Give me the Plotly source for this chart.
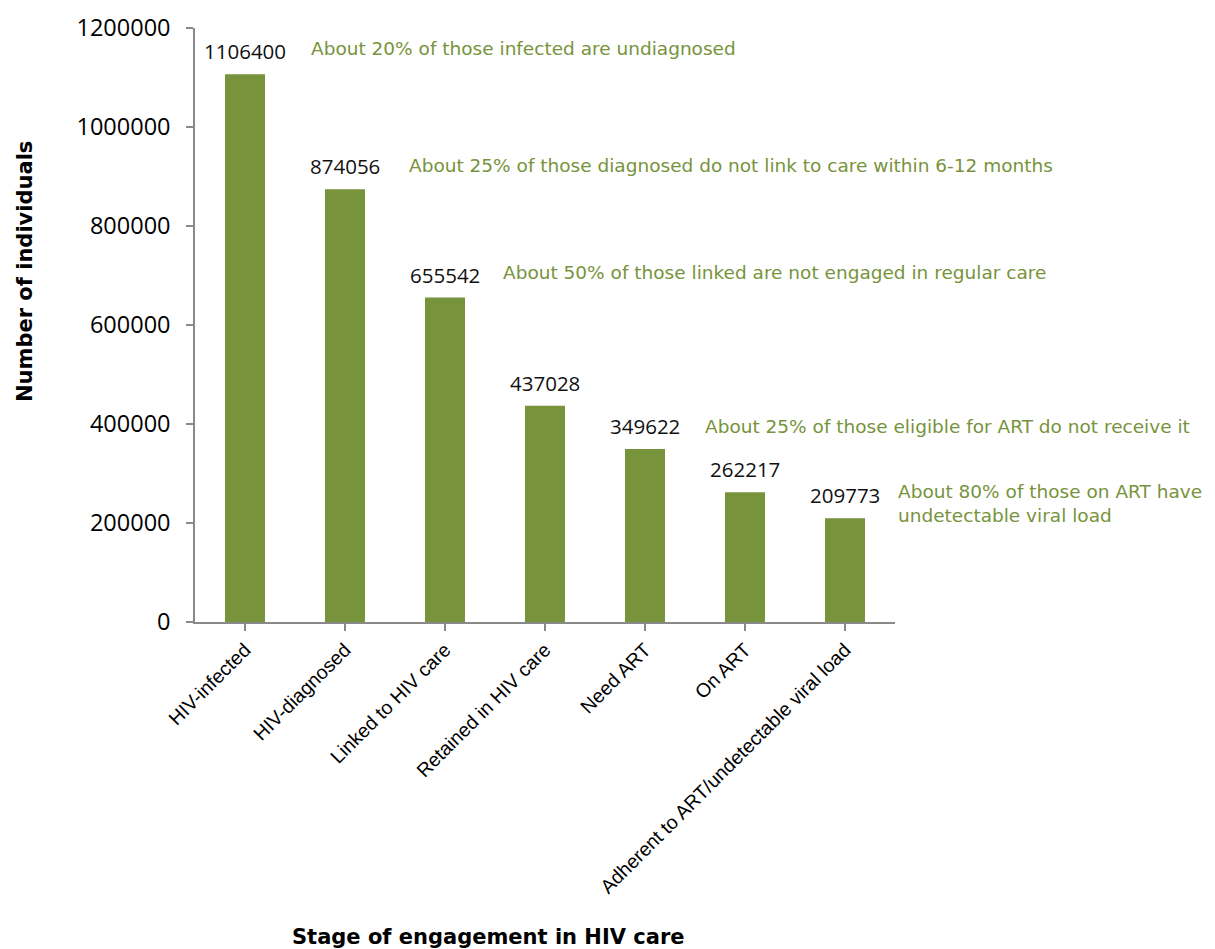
import plotly.graph_objects as go

categories = ["HIV-infected", "HIV-diagnosed", "Linked to HIV care", "Retained in HIV care",
              "Need ART", "On ART", "Adherent to ART/undetectable viral load"]
values = [1106400, 874056, 655542, 437028, 349622, 262217, 209773]

notes = [
    "About 20% of those infected are undiagnosed",
    "About 25% of those diagnosed do not link to care within 6-12 months",
    "About 50% of those linked are not engaged in regular care",
    "About 25% of those eligible for ART do not receive it",
    "About 80% of those on ART have<br>undetectable viral load",
]
note_cat_index = [0, 1, 2, 4, 6]
note_x_offset = [0.64, 0.62, 0.56, 0.58, 0.51]
note_y = [1159600, 923200, 707000, 394000, 238400]

BAR = "#77933C"
NOTE = "#77933C"
AXIS = "#898989"

W, H = 1215, 949
ml, mr, mt, mb = 195, 320, 28, 327
pw, ph = W - ml - mr, H - mt - mb
n = len(categories)

fig = go.Figure()
fig.add_trace(go.Bar(
    x=list(range(n)), y=values, marker=dict(color=BAR, line=dict(width=0)),
    width=0.4, showlegend=False,
))

annotations = []
for i, v in enumerate(values):
    annotations.append(dict(x=i, y=v, xref="x", yref="y", text=str(v), showarrow=False,
                            yanchor="bottom", yshift=7,
                            font=dict(family="Open Sans, Noto Sans", size=20.5, color="#111111")))
for t, ci, off, yy in zip(notes, note_cat_index, note_x_offset, note_y):
    annotations.append(dict(x=(ci + off + 0.5) / n, y=yy, xref="paper", yref="y", text=t, showarrow=False,
                            xanchor="left", yanchor="middle", align="left",
                            font=dict(family="DejaVu Sans", size=18.5, color=NOTE)))


def px2paper(px, py):
    return (px - ml) / pw, (H - mb - py) / ph


yx, yy_ = px2paper(25, 272)
annotations.append(dict(x=yx, y=yy_, xref="paper", yref="paper", text="<b>Number of individuals</b>",
                        showarrow=False, textangle=-90, xanchor="center", yanchor="middle",
                        font=dict(family="DejaVu Sans", size=21, color="#000000")))
xx, xy = px2paper(488, 937)
annotations.append(dict(x=xx, y=xy, xref="paper", yref="paper", text="<b>Stage of engagement in HIV care</b>",
                        showarrow=False, xanchor="center", yanchor="middle",
                        font=dict(family="DejaVu Sans", size=21, color="#000000")))

fig.update_layout(
    width=W, height=H,
    margin=dict(l=ml, r=mr, t=mt, b=mb, autoexpand=False),
    plot_bgcolor="white", paper_bgcolor="white",
    annotations=annotations,
)
fig.update_xaxes(
    tickmode="array", tickvals=list(range(n)), ticktext=categories, tickson="boundaries",
    range=[-0.5, n - 0.5], tickangle=-45, ticks="outside", ticklen=7, tickcolor=AXIS, tickwidth=1.5,
    showline=True, linecolor=AXIS, linewidth=1.5, showgrid=False, zeroline=False,
    tickfont=dict(family="Liberation Sans, Arial", size=19.5, color="#000000"),
    automargin=False,
)
fig.update_yaxes(
    range=[0, 1200000], tickvals=[0, 200000, 400000, 600000, 800000, 1000000, 1200000],
    ticktext=["0", "200000", "400000", "600000", "800000", "1000000", "1200000"],
    ticks="outside", ticklen=7, tickcolor=AXIS, tickwidth=1.5, showline=True, linecolor=AXIS, linewidth=1.5,
    showgrid=False, zeroline=False, ticklabelstandoff=11,
    tickfont=dict(family="Open Sans, Noto Sans", size=23.5, color="#000000"),
    automargin=False,
)
fig.write_html("out.html")
